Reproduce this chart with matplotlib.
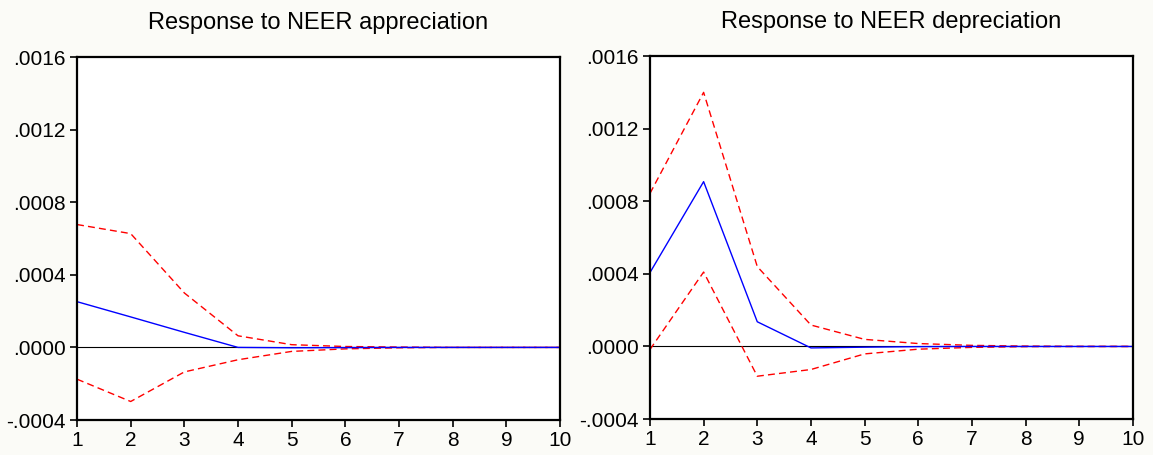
import matplotlib.pyplot as plt
from matplotlib.ticker import FuncFormatter

plt.rcParams['font.family'] = ['Liberation Sans', 'DejaVu Sans']

periods = list(range(1, 11))

# Response to NEER appreciation
app_resp = [0.000252, 0.000168, 0.000083, 0.0, -0.000002, -0.000001, 0.0, 0.0, 0.0, 0.0]
app_upper = [0.000677, 0.000627, 0.000300, 0.000064, 0.000015, 0.000005, 0.000002, 0.0, 0.0, 0.0]
app_lower = [-0.000175, -0.000298, -0.000135, -0.000068, -0.000022, -0.000008, -0.000002, 0.0, 0.0, 0.0]

# Response to NEER depreciation
dep_resp = [0.000407, 0.000908, 0.000136, -0.000008, -0.000004, -0.000001, 0.0, 0.0, 0.0, 0.0]
dep_upper = [0.000843, 0.001400, 0.000440, 0.000118, 0.000039, 0.000016, 0.000006, 0.000002, 0.0, 0.0]
dep_lower = [-0.000017, 0.000410, -0.000164, -0.000127, -0.000041, -0.000015, -0.000005, -0.000001, 0.0, 0.0]

titles = ["Response to NEER appreciation", "Response to NEER depreciation"]
yticks = [-0.0004, 0.0, 0.0004, 0.0008, 0.0012, 0.0016]


def fmt(v, pos):
    s = "%.4f" % v
    if s.startswith("-0"):
        return "-" + s[2:]
    if s.startswith("0"):
        return s[1:]
    return s


def draw(ax, resp, upper, lower, title):
    ax.axhline(0, color='black', lw=0.8)
    ax.plot(periods, upper, color='#ff0000', lw=1.0, ls=(0, (5, 3)))
    ax.plot(periods, lower, color='#ff0000', lw=1.0, ls=(0, (5, 3)))
    ax.plot(periods, resp, color='#0000ff', lw=1.0)
    ax.set_xlim(1, 10)
    ax.set_ylim(-0.0004, 0.0016)
    ax.set_xticks(periods)
    ax.set_yticks(yticks)
    ax.yaxis.set_major_formatter(FuncFormatter(fmt))
    ax.tick_params(direction='out', length=5, width=1.2, labelsize=15, pad=3)
    for sp in ax.spines.values():
        sp.set_linewidth(1.6)
    ax.set_title(title, fontsize=17, pad=20)


fig = plt.figure(figsize=(11.53, 4.55), dpi=100, facecolor='#fbfbf7')
ax1 = fig.add_axes([0.0668, 0.0769, 0.4189, 0.7978])
ax2 = fig.add_axes([0.5637, 0.0790, 0.4189, 0.7978])

draw(ax1, app_resp, app_upper, app_lower, titles[0])
draw(ax2, dep_resp, dep_upper, dep_lower, titles[1])

fig.savefig("out.png", dpi=100, facecolor=fig.get_facecolor())
